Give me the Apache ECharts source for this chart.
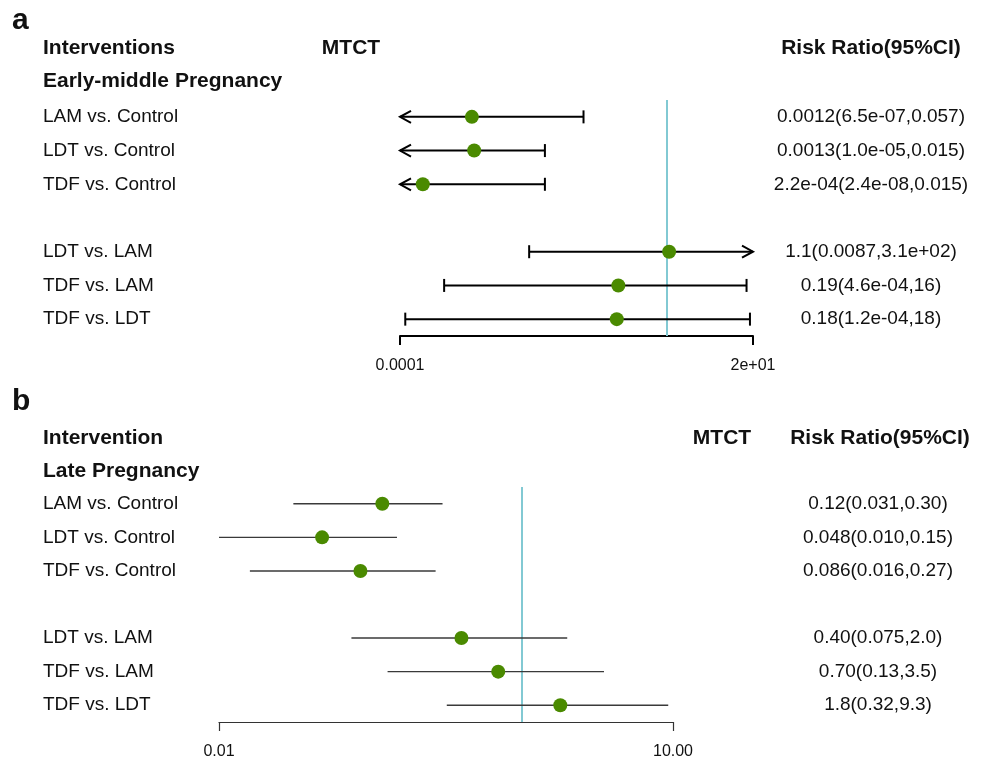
<!DOCTYPE html>
<html>
<head>
<meta charset="utf-8">
<script src="https://cdn.jsdelivr.net/npm/echarts@6/dist/echarts.min.js"></script>
<style>html,body{margin:0;padding:0;background:#fff}#c{width:984px;height:760px}</style>
</head>
<body>
<div id="c"></div>
<script>
// ---- data ----
const comparisons = ['LAM vs. Control', 'LDT vs. Control', 'TDF vs. Control', 'LDT vs. LAM', 'TDF vs. LAM', 'TDF vs. LDT'];

// panel a: Early-middle pregnancy
const rrA = [0.0012, 0.0013, 2.2e-4, 1.1, 0.19, 0.18];
const loA = [6.5e-7, 1.0e-5, 2.4e-8, 0.0087, 4.6e-4, 1.2e-4];
const hiA = [0.057, 0.015, 0.015, 310, 16, 18];
const ciLabelsA = ['0.0012(6.5e-07,0.057)', '0.0013(1.0e-05,0.015)', '2.2e-04(2.4e-08,0.015)', '1.1(0.0087,3.1e+02)', '0.19(4.6e-04,16)', '0.18(1.2e-04,18)'];
const axisValuesA = [0.0001, 20];
const axisLabelsA = ['0.0001', '2e+01'];

// panel b: Late pregnancy
const rrB = [0.12, 0.048, 0.086, 0.40, 0.70, 1.8];
const loB = [0.031, 0.010, 0.016, 0.075, 0.13, 0.32];
const hiB = [0.30, 0.15, 0.27, 2.0, 3.5, 9.3];
const ciLabelsB = ['0.12(0.031,0.30)', '0.048(0.010,0.15)', '0.086(0.016,0.27)', '0.40(0.075,2.0)', '0.70(0.13,3.5)', '1.8(0.32,9.3)'];
const axisValuesB = [0.01, 10];
const axisLabelsB = ['0.01', '10.00'];

const refValue = 1;

// ---- helpers ----
const FONT = '"Liberation Sans", Arial, Helvetica, sans-serif';
const GREEN = '#4a8a00';
const CYAN = '#82c9d3';
const lg = Math.log10;
const rowOf = i => (i < 3 ? i : i + 1);
function withGap(arr) { return [arr[0], arr[1], arr[2], '', arr[3], arr[4], arr[5]]; }

function makeErrorSeries(lo, hi, axisVals, gridIdx, style) {
  const xmin = lg(axisVals[0]), xmax = lg(axisVals[1]);
  const data = lo.map((l, i) => [lg(l), lg(hi[i]), rowOf(i)]);
  return {
    type: 'custom', xAxisIndex: gridIdx, yAxisIndex: gridIdx * 2, z: 3, silent: true,
    encode: { x: [0, 1], y: 2 },
    data: data,
    renderItem: function (params, api) {
      const l = api.value(0), h = api.value(1), r = api.value(2);
      const clipL = l < xmin, clipH = h > xmax;
      const p1 = api.coord([clipL ? xmin : l, r]);
      const p2 = api.coord([clipH ? xmax : h, r]);
      const ls = { stroke: style.color, lineWidth: style.width };
      const children = [{ type: 'line', shape: { x1: p1[0], y1: p1[1], x2: p2[0], y2: p2[1] }, style: ls }];
      if (style.caps) {
        const c = 6.5, ah = 11, aw = 6;
        if (clipL) children.push({ type: 'polyline', shape: { points: [[p1[0] + ah, p1[1] - aw], [p1[0], p1[1]], [p1[0] + ah, p1[1] + aw]] }, style: Object.assign({ fill: null }, ls) });
        else children.push({ type: 'line', shape: { x1: p1[0], y1: p1[1] - c, x2: p1[0], y2: p1[1] + c }, style: ls });
        if (clipH) children.push({ type: 'polyline', shape: { points: [[p2[0] - ah, p2[1] - aw], [p2[0], p2[1]], [p2[0] - ah, p2[1] + aw]] }, style: Object.assign({ fill: null }, ls) });
        else children.push({ type: 'line', shape: { x1: p2[0], y1: p2[1] - c, x2: p2[0], y2: p2[1] + c }, style: ls });
      }
      return { type: 'group', children: children };
    }
  };
}

function makePointSeries(rr, gridIdx) {
  return {
    type: 'scatter', xAxisIndex: gridIdx, yAxisIndex: gridIdx * 2, z: 5, silent: true,
    symbol: 'circle', symbolSize: 14,
    itemStyle: { color: GREEN, opacity: 1 },
    data: rr.map((v, i) => [lg(v), rowOf(i)]),
    markLine: {
      silent: true, symbol: 'none', z: 1,
      label: { show: false },
      lineStyle: { color: CYAN, width: 2, type: 'solid' },
      data: [{ xAxis: lg(refValue) }]
    }
  };
}

function makeXAxis(gridIdx, axisVals, axisLabels, lineColor, lineWidth, labelMargin) {
  const vals = axisVals.map(lg);
  return {
    type: 'value', gridIndex: gridIdx, min: vals[0], max: vals[1],
    splitLine: { show: false },
    axisLine: { show: true, lineStyle: { color: lineColor, width: lineWidth } },
    axisTick: { show: true, customValues: vals, length: 9, lineStyle: { color: lineColor, width: lineWidth } },
    axisLabel: {
      show: true, customValues: vals, margin: labelMargin, fontSize: 16, color: '#111', fontFamily: FONT,
      formatter: function (v) {
        for (let k = 0; k < vals.length; k++) if (Math.abs(v - vals[k]) < 1e-6) return axisLabels[k];
        return '';
      }
    }
  };
}

function makeYAxes(gridIdx, labelsRight, leftMargin, rightMargin) {
  const common = {
    type: 'category', gridIndex: gridIdx, inverse: true, boundaryGap: true,
    axisLine: { show: false }, axisTick: { show: false }, splitLine: { show: false }
  };
  return [
    Object.assign({}, common, {
      position: 'left', data: withGap(comparisons),
      axisLabel: { align: 'left', margin: leftMargin, fontSize: 19, color: '#111', fontFamily: FONT }
    }),
    Object.assign({}, common, {
      position: 'right', data: withGap(labelsRight),
      axisLabel: { align: 'center', margin: rightMargin, fontSize: 19, color: '#111', fontFamily: FONT }
    })
  ];
}

function txt(text, x, y, size, bold, align) {
  return {
    type: 'text', x: x, y: y, silent: true,
    style: { text: text, fontSize: size, fontWeight: bold ? 'bold' : 'normal', fontFamily: FONT, fill: '#111', align: align || 'left', verticalAlign: 'middle' }
  };
}

const chart = echarts.init(document.getElementById('c'), null, { renderer: 'canvas' });
chart.setOption({
  backgroundColor: '#fff',
  animation: false,
  grid: [
    { left: 400, width: 353, top: 100, height: 236 },
    { left: 219, width: 454, top: 487, height: 236 }
  ],
  xAxis: [
    makeXAxis(0, axisValuesA, axisLabelsA, '#000', 2, 22),
    makeXAxis(1, axisValuesB, axisLabelsB, '#333', 1.2, 22)
  ],
  yAxis: [].concat(makeYAxes(0, ciLabelsA, 357, 118), makeYAxes(1, ciLabelsB, 176, 205)),
  series: [
    makeErrorSeries(loA, hiA, axisValuesA, 0, { color: '#000', width: 2, caps: true }),
    makePointSeries(rrA, 0),
    makeErrorSeries(loB, hiB, axisValuesB, 1, { color: '#3a3a3a', width: 1.4, caps: false }),
    makePointSeries(rrB, 1)
  ],
  graphic: [
    txt('a', 12, 21, 30, true),
    txt('Interventions', 43, 48, 21, true),
    txt('MTCT', 351, 48, 21, true, 'center'),
    txt('Risk Ratio(95%CI)', 871, 48, 21, true, 'center'),
    txt('Early-middle Pregnancy', 43, 81, 21, true),
    txt('b', 12, 402, 30, true),
    txt('Intervention', 43, 438, 21, true),
    txt('MTCT', 722, 438, 21, true, 'center'),
    txt('Risk Ratio(95%CI)', 880, 438, 21, true, 'center'),
    txt('Late Pregnancy', 43, 471, 21, true)
  ]
});
</script>
</body>
</html>
